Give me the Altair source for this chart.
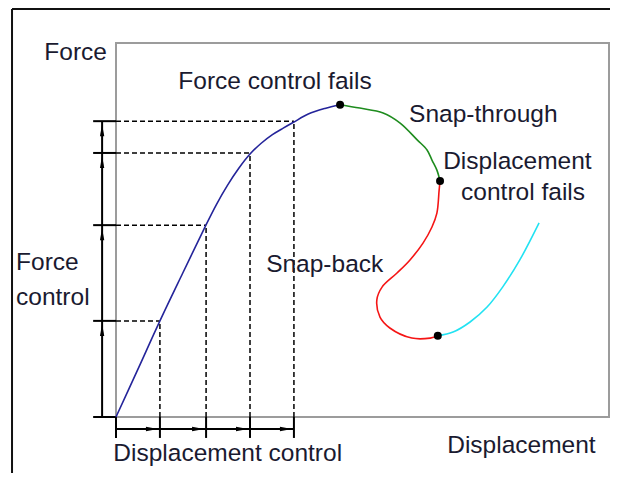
import altair as alt
import pandas as pd

# ---- data (Displacement units 0..11, Force units 0..10) ----
blue_x = [0.00, 0.49, 0.98, 1.49, 1.99, 2.24, 2.49, 2.74, 2.99, 3.24, 3.49, 3.74, 3.96, 4.29, 4.66, 5.00]
blue_y = [0.00, 1.28, 2.57, 3.85, 5.09, 5.68, 6.20, 6.65, 7.03, 7.32, 7.55, 7.73, 7.88, 8.10, 8.25, 8.35]
green_x = [5.00, 5.44, 5.96, 6.34, 6.72, 6.94, 7.05, 7.16, 7.23]
green_y = [8.35, 8.26, 8.13, 7.86, 7.41, 7.14, 6.87, 6.60, 6.31]
red_x = [7.23, 7.21, 7.16, 7.05, 6.85, 6.56, 6.27, 5.94, 5.82, 5.89, 6.11, 6.60, 7.01, 7.18]
red_y = [6.31, 6.07, 5.45, 5.08, 4.65, 4.20, 3.85, 3.48, 3.13, 2.67, 2.38, 2.11, 2.11, 2.17]
cyan_x = [7.18, 7.52, 7.90, 8.28, 8.63, 9.01, 9.44]
cyan_y = [2.17, 2.27, 2.54, 2.94, 3.48, 4.20, 5.19]

dot_x = [5.00, 7.23, 7.18]
dot_y = [8.35, 6.31, 2.17]

force_levels = [0.00, 2.57, 5.13, 7.06, 7.91]      # force-control steps
disp_steps = [0.00, 0.98, 2.01, 2.99, 3.97]        # displacement-control steps

labels = ["Force", "Force control fails", "Snap-through", "Displacement",
          "control fails", "Snap-back", "Force", "control",
          "Displacement control", "Displacement"]
label_x = [-1.60, 1.39, 6.54, 7.30, 7.70, 3.35, -2.23, -2.23, -0.06, 7.39]
label_y = [9.55, 8.77, 7.89, 6.63, 5.80, 3.88, 3.93, 2.99, -1.18, -0.96]

# frame / annotation geometry in data units
frame_left, frame_top, frame_right, frame_bottom = -2.32, 10.91, 11.4, -2.0
force_arrow_x = -0.31
tick_left = -0.51
disp_arrow_y = -0.32
tick_bottom = -0.56

xs = alt.Scale(domain=[0, 11], nice=False, zero=False)
ys = alt.Scale(domain=[0, 10], nice=False, zero=False)
X = alt.X("x:Q", scale=xs, axis=None)
Y = alt.Y("y:Q", scale=ys, axis=None)


def seg_line(xx, yy, col):
    df = pd.DataFrame({"x": xx, "y": yy, "i": list(range(len(xx)))})
    return alt.Chart(df).mark_line(strokeWidth=1.6, interpolate="catmull-rom",
                                   color=col).encode(x=X, y=Y, order="i:Q")


curves = [
    seg_line(blue_x, blue_y, "#24249a"),
    seg_line(green_x, green_y, "#1e8c1e"),
    seg_line(red_x, red_y, "#f51515"),
    seg_line(cyan_x, cyan_y, "#22e2f2"),
]


def rules(rows, **kw):
    return alt.Chart(pd.DataFrame(rows)).mark_rule(**kw).encode(
        x=X, x2="x2:Q", y=Y, y2="y2:Q")


# dashed projection lines
dash_rows = []
for fx, fy in zip(disp_steps[1:], force_levels[1:]):
    dash_rows.append({"x": 0, "x2": fx, "y": fy, "y2": fy})
    dash_rows.append({"x": fx, "x2": fx, "y": 0, "y2": fy})
dash = rules(dash_rows, color="black", strokeWidth=1.5, strokeDash=[5, 3])

# solid annotation lines
solid_rows = [{"x": force_arrow_x, "x2": force_arrow_x, "y": 0, "y2": force_levels[-1]}]
for fy in force_levels:
    solid_rows.append({"x": tick_left, "x2": 0, "y": fy, "y2": fy})
solid_rows.append({"x": 0, "x2": disp_steps[-1], "y": disp_arrow_y, "y2": disp_arrow_y})
for fx in disp_steps:
    solid_rows.append({"x": fx, "x2": fx, "y": 0, "y2": tick_bottom})
solid = rules(solid_rows, color="black", strokeWidth=2)

# outer frame
frame_k = rules([
    {"x": frame_left, "x2": frame_left, "y": frame_top, "y2": frame_bottom},
    {"x": frame_left, "x2": frame_right, "y": frame_top, "y2": frame_top},
], color="#111111", strokeWidth=2)

# arrowheads
up_df = pd.DataFrame({"x": [force_arrow_x] * 4, "y": force_levels[1:]})
up = alt.Chart(up_df).mark_point(
    shape="M0,-1L0.36,1L-0.36,1Z", filled=True, size=144, color="black",
    opacity=1, yOffset=9).encode(x=X, y=Y)

right_df = pd.DataFrame({"x": disp_steps[1:], "y": [disp_arrow_y] * 4})
right = alt.Chart(right_df).mark_point(
    shape="M1,0L-1,-0.36L-1,0.36Z", filled=True, size=144, color="black",
    opacity=1, xOffset=-8).encode(x=X, y=Y)

# dots
dots = alt.Chart(pd.DataFrame({"x": dot_x, "y": dot_y})).mark_circle(
    size=64, color="black", opacity=1).encode(x=X, y=Y)

# text
text = alt.Chart(pd.DataFrame({"t": labels, "x": label_x, "y": label_y})).mark_text(
    align="left", baseline="alphabetic", fontSize=24.5, font="Liberation Sans",
    color="#1a1a30").encode(x=X, y=Y, text="t:N")

chart = alt.layer(frame_k, dash, solid, up, right, *curves, dots, text).properties(
    width=493, height=374,
    padding={"left": 108, "top": 35, "right": 1, "bottom": 56},
    autosize=alt.AutoSizeParams(type="none"),
    background="white",
).configure_view(stroke="#9c9c9c", strokeWidth=2)

chart.save("out.html", embed_options={"renderer": "svg", "actions": False})
